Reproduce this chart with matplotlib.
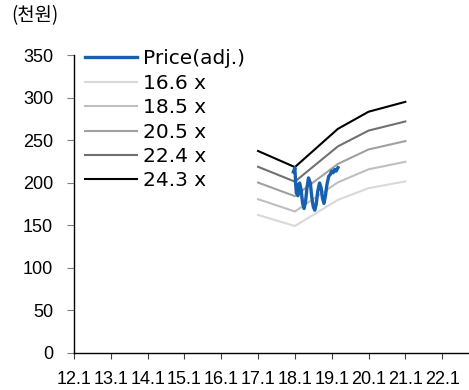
import numpy as np
import matplotlib.pyplot as plt

# time axis: year + (month-1)/12, tick labels like "12.1" = Jan 2012
years = list(range(12, 23))
tick_labels = [f"{y}.1" for y in years]

# 12M forward EPS (thousand won) used for the PER band
eps_t = [17.0, 18.0, 19.167, 20.0, 21.0]
eps = [9.78, 9.00, 10.85, 11.68, 12.16]
multiples = [16.6, 18.5, 20.5, 22.4, 24.3]
band_colors = ["#d9d9d9", "#bfbfbf", "#a0a0a0", "#707070", "#000000"]

# adjusted share price (thousand won)
price_t = [17.96, 18.00, 18.02, 18.04, 18.06, 18.08, 18.10, 18.13, 18.17, 18.21,
           18.25, 18.29, 18.33, 18.37, 18.42, 18.46, 18.50, 18.54, 18.58, 18.62,
           18.67, 18.71, 18.75, 18.79, 18.83, 18.87, 18.92, 18.96, 19.00, 19.04,
           19.08, 19.12, 19.17]
price = [213, 218, 200, 188, 190, 185, 198, 200, 192, 176,
         170, 178, 195, 206, 200, 183, 172, 168, 175, 190,
         200, 195, 182, 176, 185, 198, 208, 210, 214, 212,
         216, 214, 218]

fig = plt.figure(figsize=(4.69, 3.9), dpi=100)
ax = fig.add_axes([0.1578, 0.0949, 0.8422, 0.7628])

ax.plot(price_t, price, color="#1660b0", lw=2.4, label="Price(adj.)", zorder=5)
for m, c in zip(multiples, band_colors):
    ax.plot(eps_t, np.array(eps) * m, color=c, lw=1.5, label=f"{m} x")

ax.set_xlim(12.0, 22.73)
ax.set_ylim(0, 350)
ax.set_xticks(years)
ax.set_xticklabels(tick_labels)
ax.set_yticks(range(0, 351, 50))

for s in ["top", "right"]:
    ax.spines[s].set_visible(False)
for s in ["left", "bottom"]:
    ax.spines[s].set_linewidth(1.0)
ax.tick_params(axis="y", length=5, width=0.8, color="#808080", pad=10)
ax.tick_params(axis="x", length=4, width=0.8, color="#404040", pad=9)
for lbl in ax.get_xticklabels() + ax.get_yticklabels():
    lbl.set_family("Liberation Sans")
    lbl.set_fontsize(13)

ax.legend(loc="upper left", bbox_to_anchor=(0.028, 1.021), frameon=False,
          fontsize=14.5, borderpad=0, borderaxespad=0, handlelength=2.6,
          handletextpad=0.3, labelspacing=0.27)

fig.text(0.024, 0.959, "(천원)", family=["Noto Sans CJK KR", "DejaVu Sans"],
         fontsize=13.5, va="center", ha="left")

fig.savefig("out.png", dpi=100)
